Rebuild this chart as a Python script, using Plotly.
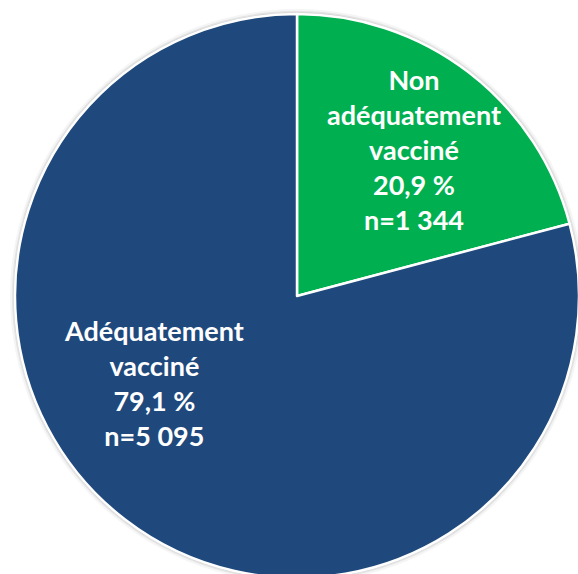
import plotly.graph_objects as go

categories = ["Non<br>adéquatement<br>vacciné", "Adéquatement<br>vacciné"]
counts = [1344, 5095]
colors = ["#00B050", "#1F497D"]
label_pos = [(0.7074, 0.7589), (0.2465, 0.3449)]  # paper coords of label centres

total = sum(counts)

def fmt_pct(v):
    return f"{100 * v / total:.1f}".replace(".", ",") + " %"

def fmt_n(v):
    return "n=" + f"{v:,}".replace(",", " ")

W, H = 594, 596
ML, MR, MT, MB = 15, 15, 14, 18

fig = go.Figure(go.Pie(
    labels=[c.replace("<br>", " ") for c in categories],
    values=counts,
    sort=False,
    direction="clockwise",
    rotation=0,
    marker=dict(colors=colors, line=dict(color="white", width=2.5)),
    textinfo="none",
    hoverinfo="label+value+percent",
    showlegend=False,
))

annotations = []
for cat, v, (px, py) in zip(categories, counts, label_pos):
    annotations.append(dict(
        x=px, y=py, xref="paper", yref="paper",
        xanchor="center", yanchor="middle",
        text=f"{cat}<br>{fmt_pct(v)}<br>{fmt_n(v)}",
        showarrow=False, align="center",
        font=dict(family="Lato", size=27, color="white", weight="bold"),
    ))

# soft shadow around pie
shapes = []
cx, cy = 0.5, 0.5
for extra, alpha in [(5, 0.04), (3, 0.07), (1.5, 0.10)]:
    r = 0.5 + extra / 564
    shapes.append(dict(type="circle", xref="paper", yref="paper",
                       x0=cx - r, x1=cx + r, y0=cy - r, y1=cy + r,
                       fillcolor=f"rgba(0,0,0,{alpha})", line=dict(width=0),
                       layer="below"))

fig.update_layout(
    width=W, height=H,
    margin=dict(l=ML, r=MR, t=MT, b=MB, pad=0),
    paper_bgcolor="white", plot_bgcolor="white",
    annotations=annotations,
    shapes=shapes,
)

fig.write_html("out.html",
               config={"displayModeBar": False},
               post_script="document.body.style.margin='0';document.body.style.overflow='hidden';")
